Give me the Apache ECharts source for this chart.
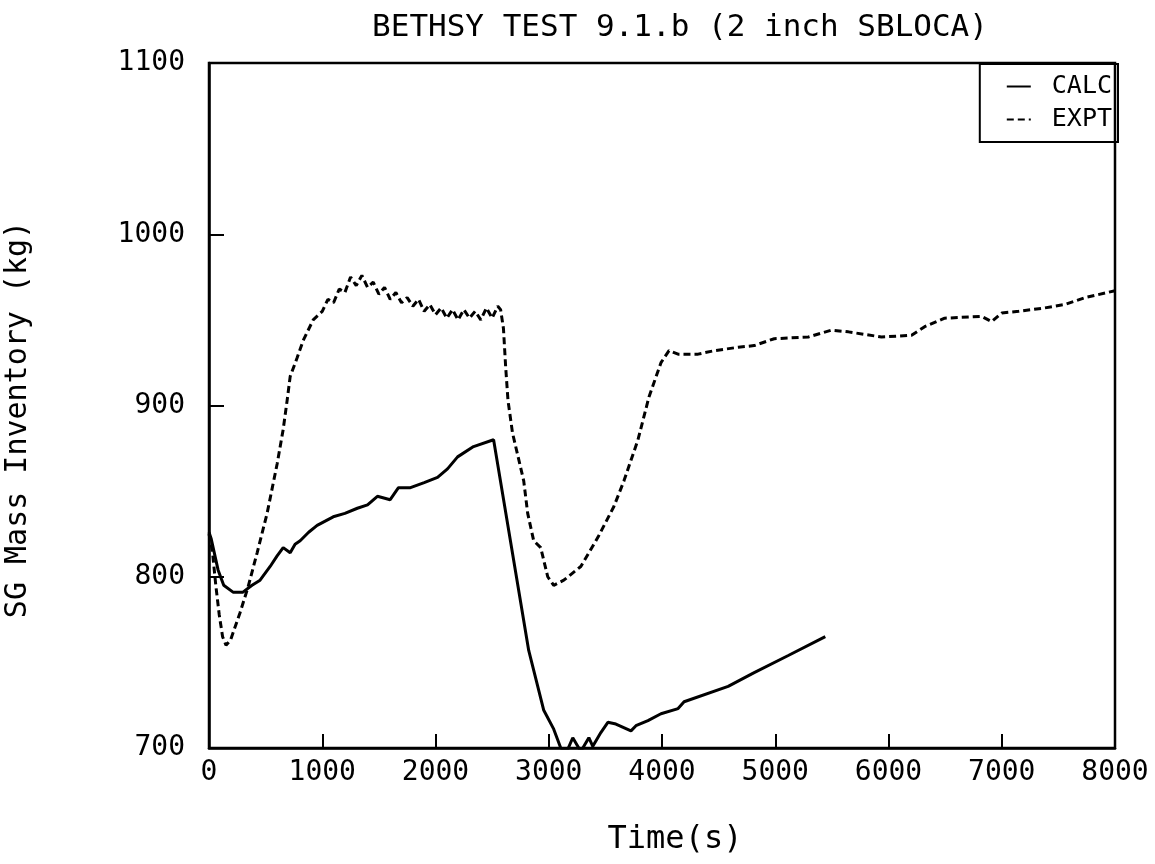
<!DOCTYPE html>
<html>
<head>
<meta charset="utf-8">
<script src="https://cdn.jsdelivr.net/npm/echarts@6/dist/echarts.min.js"></script>
<style>
  html, body { margin: 0; padding: 0; background: #fff; }
  #chart { width: 1155px; height: 864px; }
</style>
</head>
<body>
<div id="chart"></div>
<script>
// CALC (solid)
const calcTime = [0, 20, 40, 80, 130, 212, 300, 380, 451, 540, 600, 655, 717, 760, 805, 880, 955, 1097, 1200, 1310, 1400, 1487, 1600, 1673, 1779, 1900, 2018, 2106, 2195, 2336, 2513, 2823, 2956, 3044, 3106, 3160, 3212, 3283, 3354, 3389, 3460, 3522, 3593, 3726, 3770, 3876, 3991, 4142, 4195, 4584, 4814, 5115, 5442];
const calcMass = [826, 822, 816, 804, 795, 791, 791, 795, 798, 806, 812, 817, 814, 819, 821, 826, 830, 835, 837, 840, 842, 847, 845, 852, 852, 855, 858, 863, 870, 876, 880, 757, 722, 711, 700, 698, 706, 698, 706, 701, 709, 715, 714, 710, 713, 716, 720, 723, 727, 736, 744, 754, 765];

// EXPT (dashed)
const exptTime = [0, 30, 60, 90, 120, 150, 190, 274, 345, 425, 513, 602, 655, 690, 717, 779, 832, 920, 1000, 1050, 1100, 1150, 1200, 1250, 1300, 1350, 1400, 1450, 1500, 1550, 1600, 1650, 1700, 1750, 1800, 1850, 1900, 1950, 2000, 2050, 2100, 2150, 2200, 2250, 2300, 2350, 2400, 2450, 2500, 2550, 2575, 2600, 2620, 2640, 2680, 2779, 2814, 2867, 2929, 2991, 3044, 3133, 3283, 3434, 3575, 3664, 3788, 3885, 3991, 4062, 4142, 4319, 4460, 4673, 4814, 4991, 5292, 5496, 5646, 5938, 6204, 6319, 6496, 6823, 6912, 7000, 7150, 7381, 7558, 7735, 8000];
const exptMass = [825, 815, 795, 778, 765, 760, 763, 779, 794, 814, 837, 866, 886, 903, 917, 928, 938, 950, 955, 962, 960, 968, 966, 975, 970, 976, 969, 972, 965, 969, 962, 966, 960, 963, 958, 962, 955, 959, 953, 957, 951, 956, 950, 956, 951, 955, 950, 957, 951, 958, 956, 945, 922, 903, 884, 856, 837, 821, 817, 800, 795, 798, 806, 823, 841, 856, 880, 905, 925, 932, 930, 930, 932, 934, 935, 939, 940, 944, 943, 940, 941, 946, 951, 952, 949, 954, 955, 957, 959, 963, 967];

const xTicks = [0, 1000, 2000, 3000, 4000, 5000, 6000, 7000, 8000];
const yTicks = [700, 800, 900, 1000, 1100];

const FONT = 'DejaVu Sans Mono';

const chart = echarts.init(document.getElementById('chart'));
chart.setOption({
  animation: false,
  backgroundColor: '#fff',
  title: {
    text: 'BETHSY TEST 9.1.b (2 inch SBLOCA)',
    left: 675,
    textAlign: 'center',
    top: 7,
    textStyle: { color: '#000', fontFamily: FONT, fontSize: 31, fontWeight: 'normal' }
  },
  legend: {
    right: 37,
    top: 64,
    orient: 'vertical',
    itemWidth: 24,
    itemHeight: 10,
    itemGap: 8,
    padding: [10, 6, 10, 26],
    borderColor: '#000',
    borderWidth: 2,
    borderRadius: 0,
    itemStyle: { opacity: 0 },
    textStyle: { color: '#000', fontFamily: FONT, fontSize: 25, padding: [0, 0, 0, 16] },
    data: ['CALC', 'EXPT']
  },
  grid: {
    left: 209, right: 40, top: 63, bottom: 116,
    outerBoundsMode: 'none',
    containLabel: false,
    show: true, borderColor: '#000', borderWidth: 2.5, backgroundColor: 'transparent'
  },
  xAxis: {
    type: 'value',
    min: xTicks[0], max: xTicks[xTicks.length - 1], interval: 1000,
    name: 'Time(s)',
    nameLocation: 'middle',
    nameGap: 76,
    nameTextStyle: { color: '#000', fontFamily: FONT, fontSize: 32, padding: [0, 0, 0, 26] },
    axisLine: { lineStyle: { color: '#000', width: 2.5 } },
    axisTick: { inside: true, length: 14, lineStyle: { color: '#000', width: 2 } },
    axisLabel: { color: '#000', fontFamily: FONT, fontSize: 28, margin: 11, formatter: v => String(v) },
    splitLine: { show: false }
  },
  yAxis: {
    type: 'value',
    min: yTicks[0], max: yTicks[yTicks.length - 1], interval: 100,
    name: 'SG Mass Inventory (kg)',
    nameLocation: 'middle',
    nameGap: 176,
    nameTextStyle: { color: '#000', fontFamily: FONT, fontSize: 30, padding: [0, 28, 0, 0] },
    axisLine: { lineStyle: { color: '#000', width: 2.5 } },
    axisTick: { inside: true, length: 15, lineStyle: { color: '#000', width: 2 } },
    axisLabel: { color: '#000', fontFamily: FONT, fontSize: 28, margin: 24, padding: [0, 0, 14, 0], formatter: v => String(v) },
    splitLine: { show: false }
  },
  series: [
    {
      name: 'CALC',
      type: 'line',
      showSymbol: false,
      symbol: 'none',
      clip: true,
      lineStyle: { color: '#000', width: 3 },
      itemStyle: { color: '#000' },
      data: calcTime.map((t, i) => [t, calcMass[i]])
    },
    {
      name: 'EXPT',
      type: 'line',
      showSymbol: false,
      symbol: 'none',
      clip: true,
      lineStyle: { color: '#000', width: 3, type: [7, 4] },
      itemStyle: { color: '#000' },
      data: exptTime.map((t, i) => [t, exptMass[i]])
    }
  ]
});
</script>
</body>
</html>
